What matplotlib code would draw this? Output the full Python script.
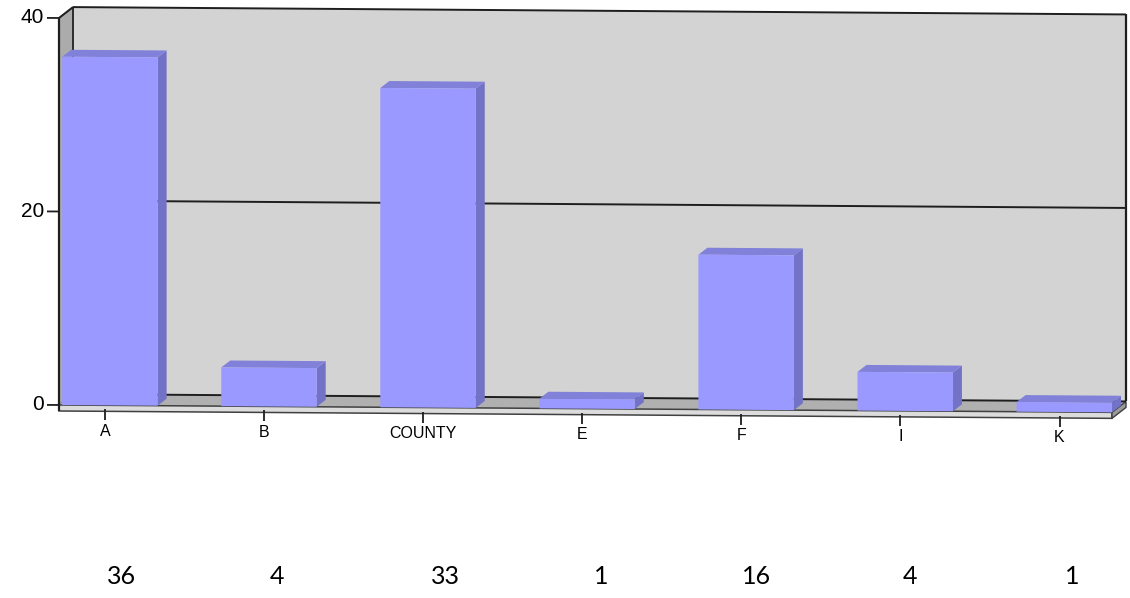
import matplotlib.pyplot as plt
from matplotlib.patches import Polygon
from matplotlib.transforms import Affine2D, IdentityTransform

categories = ["A", "B", "COUNTY", "E", "F", "I", "K"]
counts = [36, 4, 33, 1, 16, 4, 1]
y_ticks = [0, 20, 40]

# x positions (figure px) of the count row under the chart
count_x = [122, 277, 445, 601, 757, 910, 1072]

FRONT = "#9999FF"
SIDE = "#7272C6"
TOP = "#8181DA"
WALL = "#D3D3D3"
SIDE_WALL = "#ABABAB"
FLOOR = "#B0B0B0"
EDGE = "#1E1E1E"

W, H = 1130, 598
fig = plt.figure(figsize=(W / 100, H / 100), dpi=100)
ax = fig.add_axes([59 / W, 193 / H, 1053 / W, 387 / H])
xmin, xmax = -0.32, 6.30
ax.set_xlim(xmin, xmax)
ax.set_ylim(0, 40)
ax.axis("off")

# the whole chart sags slightly to the right
x0, y0 = ax.transData.transform((xmin, 0))
tilt = Affine2D().translate(-x0, -y0).skew_deg(0, -0.4).translate(x0, y0)
ID = IdentityTransform()

WALL_D = (14, 11)   # depth of the box, px
BAR_D = (9, 7)      # depth of the bars, px


def pt(x, y, dx=0, dy=0):
    px, py = ax.transData.transform((x, y))
    return tuple(tilt.transform((px + dx, py + dy)))


def face(points, color, ec="none", lw=0, z=1):
    ax.add_patch(Polygon(points, closed=True, fc=color, ec=ec, lw=lw,
                         transform=ID, clip_on=False, zorder=z))


def seg(a, b, color=EDGE, lw=1.3, z=2):
    ax.plot([a[0], b[0]], [a[1], b[1]], color=color, lw=lw,
            transform=ID, clip_on=False, zorder=z, solid_capstyle="butt")


# back wall
face([pt(xmin, 0, *WALL_D), pt(xmax, 0, *WALL_D),
      pt(xmax, 40, *WALL_D), pt(xmin, 40, *WALL_D)], WALL)
# left wall
face([pt(xmin, 0), pt(xmin, 0, *WALL_D),
      pt(xmin, 40, *WALL_D), pt(xmin, 40)], SIDE_WALL, ec="#7A7A7A", lw=1)
# floor and its front edge
face([pt(xmin, 0), pt(xmax, 0), pt(xmax, 0, *WALL_D), pt(xmin, 0, *WALL_D)], FLOOR)
face([pt(xmin, 0), pt(xmax, 0), pt(xmax, 0, 0, -6), pt(xmin, 0, 0, -6)],
     "#DCDCDC", ec="#404040", lw=1.1)
face([pt(xmax, 0), pt(xmax, 0, *WALL_D), pt(xmax, 0, WALL_D[0], WALL_D[1] - 6),
      pt(xmax, 0, 0, -6)], "#9A9A9A", ec="#404040", lw=1)

# grid lines on the back wall
for v in y_ticks:
    seg(pt(xmin, v, *WALL_D), pt(xmax, v, *WALL_D), lw=1.4)
seg(pt(xmax, 0, *WALL_D), pt(xmax, 40, *WALL_D), lw=1.6)
seg(pt(xmin, 0, *WALL_D), pt(xmin, 40, *WALL_D), lw=1.2)
seg(pt(xmin, 40), pt(xmin, 40, *WALL_D), lw=1.4)

# value axis
seg(pt(xmin, 0, 0, -6), pt(xmin, 40), lw=1.6, z=5)
for v in y_ticks:
    seg(pt(xmin, v, -12, 0), pt(xmin, v), lw=1.3, z=5)
    ax.text(*pt(xmin, v, -15, 0), str(v), ha="right", va="center",
            fontsize=15, family="Liberation Sans", transform=ID)

# 3d bars
width = 0.6
for i, v in enumerate(counts):
    l, r = i - width / 2, i + width / 2
    face([pt(r, 0), pt(r, 0, *BAR_D), pt(r, v, *BAR_D), pt(r, v)], SIDE, z=3)
    face([pt(l, v), pt(r, v), pt(r, v, *BAR_D), pt(l, v, *BAR_D)], TOP, z=3)
ax.bar(range(len(counts)), counts, width=width, color=FRONT,
       transform=ax.transData + tilt, clip_on=False, zorder=4)

# category ticks and labels
for i, name in enumerate(categories):
    seg(pt(i - 0.03, 0, 0, -4), pt(i - 0.03, 0, 0, -15), lw=1.3, z=5)
    ax.text(*pt(i - 0.03, 0, 0, -26), name, ha="center", va="center",
            fontsize=11.5, family="Liberation Sans", transform=ID)

# counts row
for xp, v in zip(count_x, counts):
    fig.text(xp / W, (H - 577) / H, str(v), ha="center", va="center",
             fontsize=18, family="Lato")

fig.savefig("out.png", dpi=100)
